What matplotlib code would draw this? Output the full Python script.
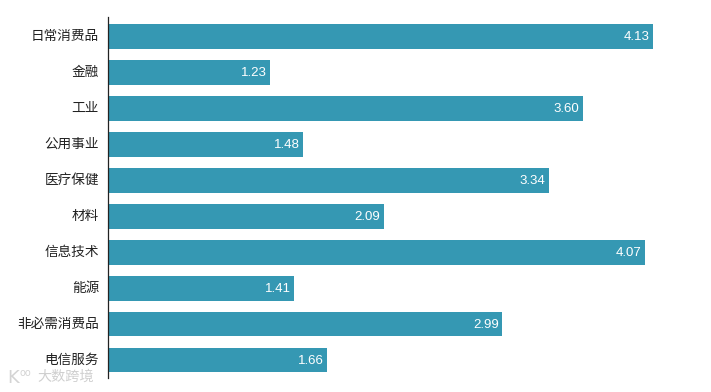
import matplotlib
matplotlib.use('Agg')
import matplotlib.pyplot as plt
from matplotlib.transforms import ScaledTranslation

plt.rcParams['font.family'] = ['Noto Sans CJK SC', 'DejaVu Sans']

categories = ['日常消费品', '金融', '工业', '公用事业', '医疗保健',
              '材料', '信息技术', '能源', '非必需消费品', '电信服务']
values = [4.13, 1.23, 3.60, 1.48, 3.34, 2.09, 4.07, 1.41, 2.99, 1.66]

W, H = 711, 392
fig = plt.figure(figsize=(W / 100, H / 100), dpi=100)
# axis line runs from y=17 to y=378 in the picture
ax = fig.add_axes([108 / W, 1 - 378 / H, (W - 108) / W, 361 / H])

pos = range(len(categories))
ax.barh(pos, values, height=0.69, color='#3598b3')

ax.set_xlim(0, (W - 108) / 131.9)
ax.set_ylim(9.5, -0.54)
ax.set_yticks(list(pos))
ax.set_yticklabels(categories, fontsize=9.8, color='#222222')
ax.tick_params(axis='y', length=0, pad=6.5)
ax.xaxis.set_visible(False)

# labels sit a little higher than the CJK font centres them
up = ScaledTranslation(0, 2 / 100, fig.dpi_scale_trans)
for lab in ax.get_yticklabels():
    lab.set_transform(lab.get_transform() + up)

for s in ['top', 'right', 'bottom']:
    ax.spines[s].set_visible(False)
ax.spines['left'].set_linewidth(0.9)
ax.spines['left'].set_color('#222222')

for i, v in enumerate(values):
    ax.annotate('%.2f' % v, (v, i), xytext=(-2.4, -0.6), textcoords='offset points',
                ha='right', va='center', color='white', fontsize=9.5,
                family=['Liberation Sans'])

# watermark, bottom left
fig.text(7 / W, 1 - 378 / H, 'K', fontsize=13, color='#d4d4d4', va='center', family=['DejaVu Sans'])
fig.text(20 / W, 1 - 373 / H, 'oo', fontsize=7, color='#d4d4d4', va='center', family=['DejaVu Sans'])
fig.text(37 / W, 1 - 377 / H, '大数跨境', fontsize=10.2, color='#cfcfcf', va='center')

fig.savefig('out.png', dpi=100)
